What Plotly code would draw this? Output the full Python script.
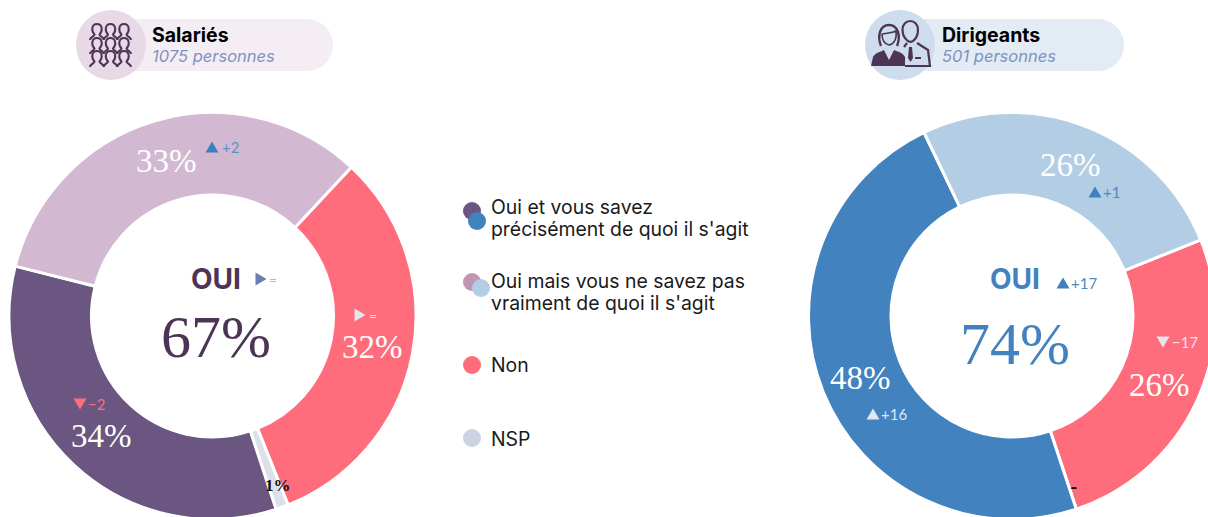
import math
import plotly.graph_objects as go

# ---- data ----
slices = ["Non", "NSP", "Oui et vous savez précisément de quoi il s'agit", "Oui mais vous ne savez pas vraiment de quoi il s'agit"]
salaries_values = [32, 1, 34, 33]
dirigeants_values = [26, 0, 48, 26]
salaries_colors = ["#FF6D7C", "#DCE0EB", "#6A5680", "#D3B8D1"]
dirigeants_colors = ["#FF6D7C", "#DCE0EB", "#4282BF", "#B3CDE5"]
salaries_total = "67%"
dirigeants_total = "74%"
legend_lines = [["Oui et vous savez", "précisément de quoi il s'agit"],
                ["Oui mais vous ne savez pas", "vraiment de quoi il s'agit"],
                ["Non"], ["NSP"]]

# ---- canvas (page is clipped to the 1208x517 window) ----
W, H = 1240, 540
SANS = "Inter, Lato, sans-serif"
SERIF = "Liberation Serif, serif"
LIGHT = "Lato, sans-serif"
DARK = "#4D3455"
BLUE = "#4282BF"
PALE = "#E4E6EF"
R = 203.5
CY = 316


def fx(x):
    return x / W


def fy(y):
    return 1 - y / H


shapes = []
annotations = []


def circle(cx, cy, r, color):
    shapes.append(dict(type="circle", xref="paper", yref="paper", x0=fx(cx - r), x1=fx(cx + r),
                       y0=fy(cy + r), y1=fy(cy - r), fillcolor=color, line_width=0))


def rect(x0, y0, x1, y1, color):
    shapes.append(dict(type="rect", xref="paper", yref="paper", x0=fx(x0), x1=fx(x1),
                       y0=fy(y1), y1=fy(y0), fillcolor=color, line_width=0))


def path(points, fill=None, stroke=None, width=1.5):
    out = []
    for p in points:
        cmd, coords = p[0], p[1:]
        vals = [fx(v) if i % 2 == 0 else fy(v) for i, v in enumerate(coords)]
        out.append(cmd + " ".join(f"{v:.5f}" for v in vals))
    d = " ".join(out)
    if fill:
        d += " Z"
    shapes.append(dict(type="path", xref="paper", yref="paper", path=d,
                       fillcolor=fill or "rgba(0,0,0,0)",
                       line=dict(color=stroke or "rgba(0,0,0,0)", width=width if stroke else 0)))


def text(x, y, s, size, color, family=SANS, anchor="center", bold=False, italic=False):
    if bold:
        s = f"<b>{s}</b>"
    if italic:
        s = f"<i>{s}</i>"
    if anchor == "left":
        x -= 2  # annotation padding
    annotations.append(dict(xref="paper", yref="paper", x=fx(x), y=fy(y), text=s, showarrow=False,
                            xanchor=anchor, yanchor="middle", align="left",
                            font=dict(size=size, color=color, family=family)))


def tri(cx, cy, kind, color):
    w, h = 6.5, 5.5
    if kind == "up":
        pts = [("M", cx - w, cy + h), ("L", cx + w, cy + h), ("L", cx, cy - h)]
    elif kind == "down":
        pts = [("M", cx - w, cy - h), ("L", cx + w, cy - h), ("L", cx, cy + h)]
    else:
        pts = [("M", cx - h, cy - w), ("L", cx - h, cy + w), ("L", cx + h, cy)]
    path(pts, fill=color)


def trend(tx, ty, kind, tcolor, label, lx, lcolor):
    tri(tx, ty, kind, tcolor)
    text(lx, ty, label, 15, lcolor, family=LIGHT, anchor="left")


def person(cx, cy):
    path([("M", cx - 7, cy + 11),
          ("C", cx - 7, cy + 8, cx - 3, cy + 8, cx - 2.5, cy + 5.5),
          ("C", cx - 6, cy + 2, cx - 5.5, cy - 5, cx, cy - 5),
          ("C", cx + 5.5, cy - 5, cx + 6, cy + 2, cx + 2.5, cy + 5.5),
          ("C", cx + 3, cy + 8, cx + 7, cy + 8, cx + 7, cy + 11)], stroke=DARK, width=2)


# ---- header badges ----
for cx, circ, pill, end in [(111, "#E8D9E6", "#F5EDF4", 333), (900, "#CDDDED", "#E3EBF5", 1124)]:
    rect(cx, 19, end - 26, 71, pill)
    circle(end - 26, 45, 26, pill)
    circle(cx, 45, 35, circ)

for yy in (29, 43, 56):
    for xx in (97, 110.5, 124):
        person(xx, yy)

# Dirigeants icon: man
path([("M", 902.5, 30), ("C", 902.5, 18, 918, 18, 918, 30), ("C", 918, 36, 915, 41, 910.5, 42),
      ("C", 906, 41, 902.5, 36, 902.5, 30)], stroke=DARK, width=2.2)
path([("M", 904, 47), ("L", 907, 43), ("M", 917, 43), ("L", 928, 50), ("L", 930, 66), ("L", 905, 66)],
     stroke=DARK, width=2.2)
path([("M", 909, 47), ("L", 912, 47), ("L", 913, 58), ("L", 910.5, 62), ("L", 908, 58)], fill=DARK)
path([("M", 915, 58), ("L", 921, 58)], stroke=DARK, width=2)
# Dirigeants icon: woman
path([("M", 881, 46), ("C", 877, 36, 880, 25, 889, 25), ("C", 898, 25, 901, 36, 897, 46)], stroke=DARK, width=2.4)
path([("M", 882, 34), ("C", 886, 33, 892, 33, 896, 31), ("C", 897, 39, 894, 44, 889, 45),
      ("C", 885, 44, 882, 40, 882, 34)], stroke=DARK, width=1.6)
path([("M", 871, 66), ("L", 873, 57), ("C", 875, 53, 880, 52, 884, 50), ("L", 889, 60), ("L", 894, 50),
      ("C", 899, 52, 903, 53, 905, 57), ("L", 905, 66)], fill=DARK)

text(152, 35, "Salariés", 19.5, "#000000", bold=True, anchor="left")
text(152, 56, "1075 personnes", 16.5, "#7F92BF", italic=True, anchor="left")
text(942, 35, "Dirigeants", 19.5, "#000000", bold=True, anchor="left")
text(942, 56, "501 personnes", 16.5, "#7F92BF", italic=True, anchor="left")

# ---- legend ----
circle(472, 211, 9, "#6A5680")
circle(477, 221, 9, BLUE)
circle(472, 282, 9, "#C096B5")
circle(481, 288, 9, "#B3CDE5")
circle(472, 365, 9, "#FF6D7C")
circle(472, 438, 9, "#CDD2E3")
legend_y = [[207, 229], [281, 303], [365], [439]]
for lines, ys in zip(legend_lines, legend_y):
    for line, y in zip(lines, ys):
        text(491, y, line, 19.4, "#1A1A1A", anchor="left")

# ---- centre and trend labels ----
text(216, 279, "OUI", 28, DARK, bold=True)
text(216, 337, salaries_total, 60, DARK, family=SERIF)
tri(261, 279, "right", "#6B7FAF")
text(273, 279, "=", 14, "#AEB6D2", family=LIGHT)
text(1015, 279, "OUI", 28, BLUE, bold=True)
text(1015, 344, dirigeants_total, 60, BLUE, family=SERIF)

trend(212, 147, "up", "#3F7FBE", "+2", 222, "#5B8FC6")
tri(360, 315, "right", PALE)
text(373, 315, "=", 14, PALE, family=LIGHT)
trend(80, 404, "down", "#FF6D7C", "−2", 88, "#FF6D7C")
text(278, 485, "1%", 17, "#111111", family=SERIF, bold=True)

trend(1095, 192, "up", "#3F7FBE", "+1", 1103, "#4D89C4")
trend(1063, 283, "up", "#3F7FBE", "+17", 1071, "#4D89C4")
trend(1163, 342, "down", PALE, "−17", 1172, PALE)
trend(873, 414, "up", PALE, "+16", 881, PALE)
text(1073, 487, "-", 16, "#111111", bold=True)


# ---- pies ----
def slice_labels(values, cx, rotation):
    cum = 0
    for i, v in enumerate(values):
        if i != 1:
            ang = math.radians(rotation + (cum + v / 2) * 3.6)
            text(cx + 163 * math.sin(ang), CY - 163 * math.cos(ang) + 1, f"{v}%", 33, "#FFFFFF", family=SERIF)
        cum += v


def donut(values, colors, cx, rotation):
    slice_labels(values, cx, rotation)
    return go.Pie(
        labels=slices, values=values, sort=False, direction="clockwise", rotation=rotation,
        hole=121 / R,
        domain=dict(x=[fx(cx - R), fx(cx + R)], y=[fy(CY + R), fy(CY - R)]),
        marker=dict(colors=colors, line=dict(color="#FFFFFF", width=3)),
        textinfo="none", hoverinfo="skip", showlegend=False,
    )


fig = go.Figure([donut(salaries_values, salaries_colors, 212.5, 43),
                 donut(dirigeants_values, dirigeants_colors, 1012, 68)])
fig.update_layout(width=W, height=H, margin=dict(l=0, r=0, t=0, b=0), paper_bgcolor="#FFFFFF",
                  showlegend=False, shapes=shapes, annotations=annotations)
fig.write_html("out.html", config=dict(displayModeBar=False),
               post_script="document.body.style.margin='0';document.documentElement.style.overflow='hidden';document.body.style.overflow='hidden';")
